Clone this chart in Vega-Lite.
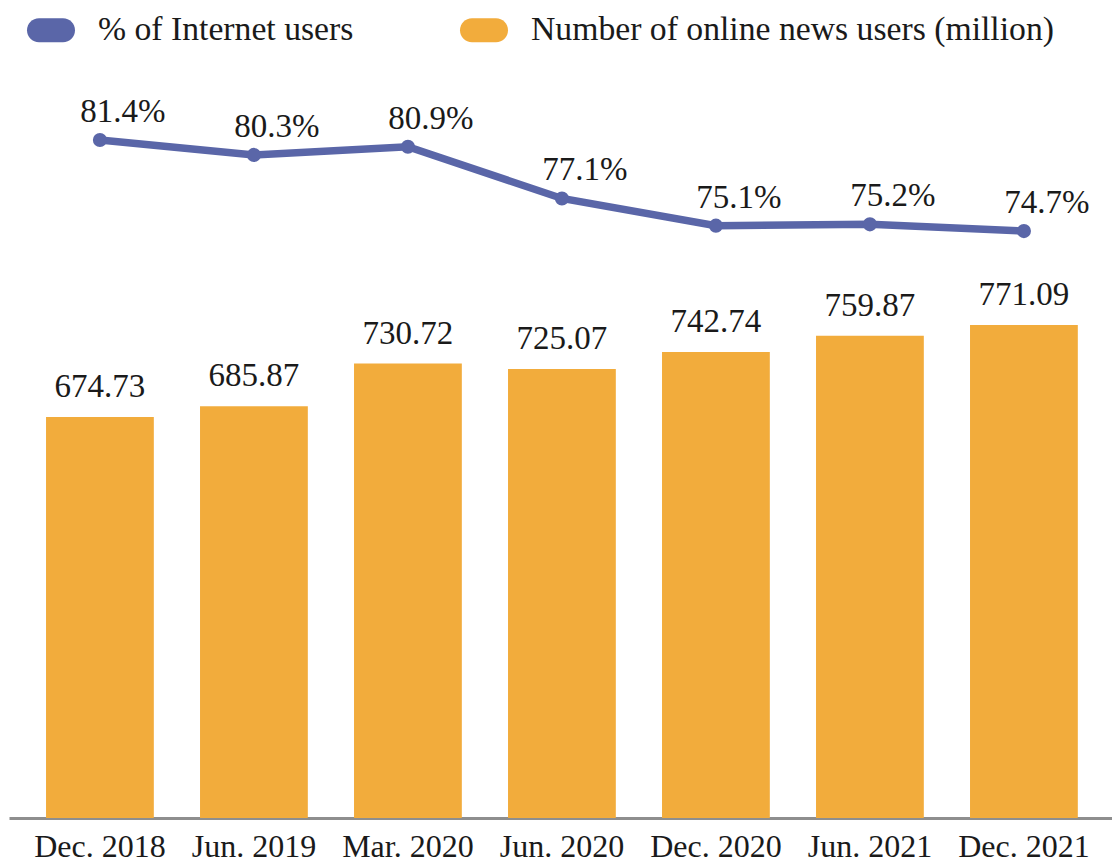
{
  "$schema": "https://vega.github.io/schema/vega-lite/v6.json",
  "width": 1103,
  "height": 718,
  "autosize": {"type": "none"},
  "padding": {"left": 9, "top": 100, "right": 0, "bottom": 47},
  "background": "white",
  "config": {"view": {"stroke": null}, "font": "Liberation Serif"},
  "data": {
    "values": [
      {"period": "Dec. 2018", "users": 674.73, "pct": 0.814},
      {"period": "Jun. 2019", "users": 685.87, "pct": 0.803},
      {"period": "Mar. 2020", "users": 730.72, "pct": 0.809},
      {"period": "Jun. 2020", "users": 725.07, "pct": 0.771},
      {"period": "Dec. 2020", "users": 742.74, "pct": 0.751},
      {"period": "Jun. 2021", "users": 759.87, "pct": 0.752},
      {"period": "Dec. 2021", "users": 771.09, "pct": 0.747}
    ]
  },
  "encoding": {
    "x": {
      "field": "period",
      "type": "nominal",
      "sort": null,
      "scale": {"paddingInner": 0.3, "paddingOuter": 0.2312, "align": 0.52},
      "axis": {
        "title": null,
        "labelAngle": 0,
        "ticks": false,
        "grid": false,
        "domainColor": "#8e8e8e",
        "domainWidth": 3,
        "labelFont": "Liberation Serif",
        "labelFontSize": 32,
        "labelColor": "#1a1a1a",
        "labelBaseline": "alphabetic",
        "labelPadding": 38
      }
    }
  },
  "layer": [
    {
      "mark": {"type": "bar", "clip": true},
      "encoding": {
        "y": {"field": "users", "type": "quantitative", "scale": {"domain": [254.7, 1006.7], "zero": false, "nice": false}, "axis": null},
        "color": {
          "datum": "Number of online news users (million)",
          "type": "nominal",
          "scale": {"domain": ["% of Internet users", "Number of online news users (million)"], "range": ["#5a66a8", "#f2ac3c"]},
          "legend": {
            "orient": "none",
            "legendX": 18,
            "legendY": -94,
            "direction": "horizontal",
            "columns": 2,
            "title": null,
            "symbolType": "M -0.5 -0.5 L 0.5 -0.5 A 0.5 0.5 0 0 1 0.5 0.5 L -0.5 0.5 A 0.5 0.5 0 0 1 -0.5 -0.5 Z",
            "symbolSize": 2304,
            "symbolStrokeWidth": 0,
            "labelFont": "Liberation Serif",
            "labelFontSize": 33.7,
            "labelColor": "#1a1a1a",
            "labelOffset": 23,
            "labelLimit": 0,
            "columnPadding": 106
          }
        }
      }
    },
    {
      "mark": {"type": "text", "baseline": "alphabetic", "align": "center", "dy": -20, "fontSize": 33, "font": "Liberation Serif", "color": "#1a1a1a"},
      "encoding": {
        "y": {"field": "users", "type": "quantitative", "scale": {"domain": [254.7, 1006.7], "zero": false, "nice": false}, "axis": null},
        "text": {"field": "users", "type": "quantitative", "format": ".2f"}
      }
    },
    {
      "mark": {"type": "line", "color": "#5a66a8", "strokeWidth": 7.5},
      "encoding": {
        "y": {"field": "pct", "type": "quantitative", "scale": {"domain": [0.3155, 0.8434], "zero": false, "nice": false}, "axis": null}
      }
    },
    {
      "mark": {"type": "point", "filled": true, "color": "#5a66a8", "size": 200, "opacity": 1},
      "encoding": {
        "y": {"field": "pct", "type": "quantitative", "scale": {"domain": [0.3155, 0.8434], "zero": false, "nice": false}, "axis": null}
      }
    },
    {
      "mark": {"type": "text", "baseline": "alphabetic", "align": "center", "dx": 23, "dy": -18, "fontSize": 33, "font": "Liberation Serif", "color": "#1a1a1a"},
      "encoding": {
        "y": {"field": "pct", "type": "quantitative", "scale": {"domain": [0.3155, 0.8434], "zero": false, "nice": false}, "axis": null},
        "text": {"field": "pct", "type": "quantitative", "format": ".1%"}
      }
    }
  ],
  "resolve": {"scale": {"y": "independent"}}
}
